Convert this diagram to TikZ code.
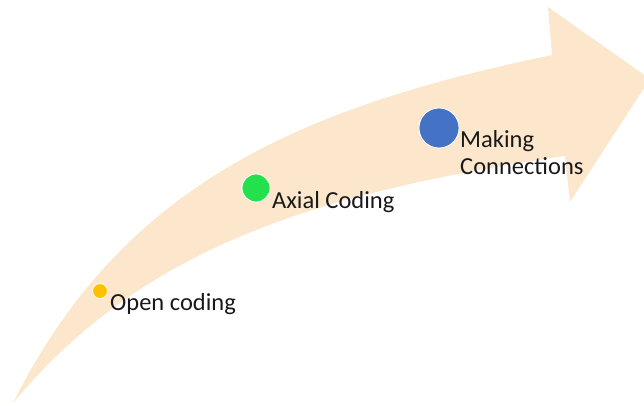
\documentclass[tikz,border=0pt]{standalone}
\usepackage{fontspec}
\setmainfont{Carlito}
\definecolor{peach}{RGB}{253,231,204}
\definecolor{dotyellow}{RGB}{255,192,0}
\definecolor{dotgreen}{RGB}{36,224,76}
\definecolor{dotblue}{RGB}{68,114,196}
\tikzset{
  stage/.style={circle, draw=white, line width=0.8pt, inner sep=0pt},
  stagetext/.style={anchor=base west, inner sep=0pt, align=left,
    font=\fontsize{24.5}{28}\selectfont, text=black!90}
}
\begin{document}
\begin{tikzpicture}[x=1pt,y=-1pt]

  \useasboundingbox (0,0) rectangle (644,406);
  \clip (0,0) rectangle (644,406);

  % the curved arrow
  \fill[peach] (13,403) .. controls (123,183) and (302,107) .. (552,55)
    -- (548,7) -- (650,79) -- (570,202) -- (565,156)
    .. controls (315,193) and (143,247) .. (13,403) -- cycle;

  % stages
  \node[stage, fill=dotyellow, minimum size=15pt] (open) at (100,291) {};
  \node[stage, fill=dotgreen, minimum size=28pt] (axial) at (256,188) {};
  \node[stage, fill=dotblue, minimum size=40pt] (making) at (439,128) {};

  \node[stagetext] (opentext) at (110,310) {Open coding};
  \node[stagetext] (axialtext) at (272,208) {Axial Coding};
  \node[stagetext] (makingtext) at (460,175) {Making\\Connections};

\end{tikzpicture}
\end{document}
